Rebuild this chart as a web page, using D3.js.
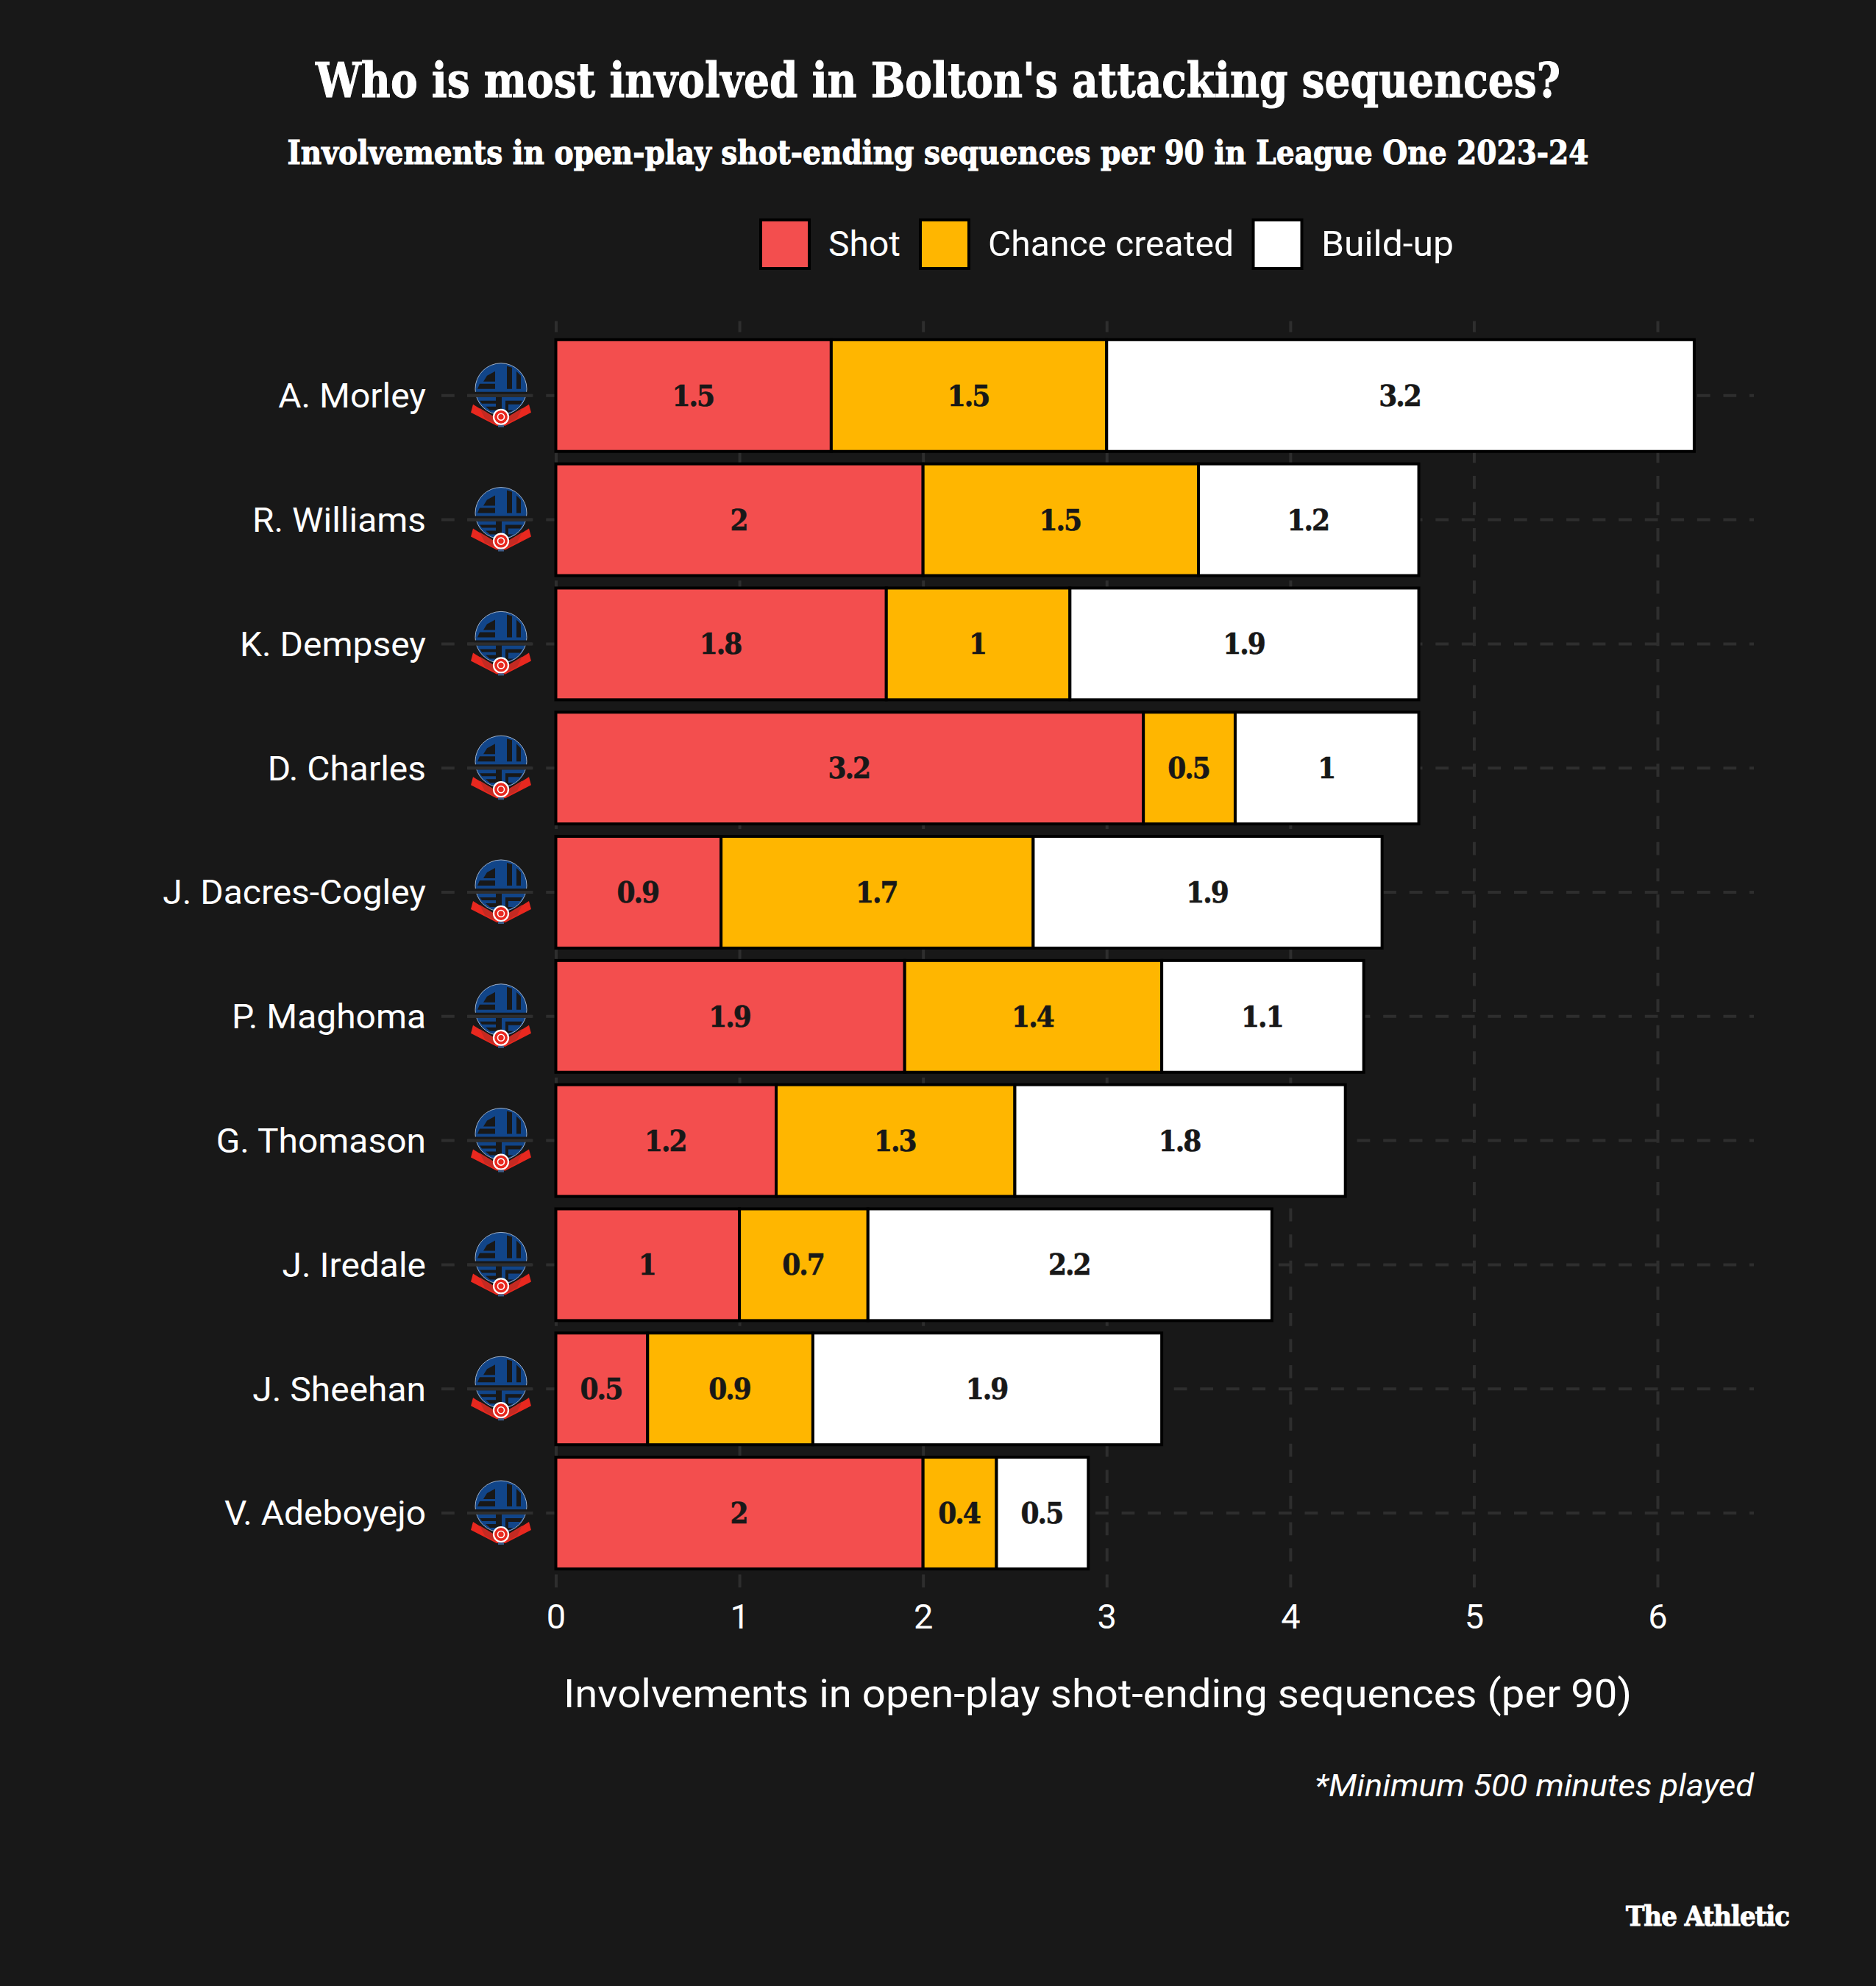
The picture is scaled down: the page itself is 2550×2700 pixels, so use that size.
<!DOCTYPE html>
<html>
<head>
    <title>Who is most involved in Bolton's attacking sequences?</title>
    <script src="https://cdnjs.cloudflare.com/ajax/libs/d3/7.8.5/d3.min.js"></script>
    <style>
        body { margin: 0; background: #181818; }
        text { fill: #fff; font-family: Roboto, sans-serif; }
        .slab { font-family: "DejaVu Serif", serif; font-weight: 700; font-stretch: condensed; }
        .heavy { stroke: #fff; stroke-width: 1; }
        .value { stroke: #181818; stroke-width: 0.6; }
        .grid line { stroke: #2e2e2e; stroke-width: 4; stroke-dasharray: 17.78 17.78; }
        .domain { display: none; }
    </style>
</head>
<body>
    <svg id="chart" width="2550" height="2700"></svg>

    <script>
        var players = ["A. Morley", "R. Williams", "K. Dempsey", "D. Charles", "J. Dacres-Cogley",
                       "P. Maghoma", "G. Thomason", "J. Iredale", "J. Sheehan", "V. Adeboyejo"];
        var shot =    [1.5, 2, 1.8, 3.2, 0.9, 1.9, 1.2, 1, 0.5, 2];
        var chance =  [1.5, 1.5, 1, 0.5, 1.7, 1.4, 1.3, 0.7, 0.9, 0.4];
        var buildUp = [3.2, 1.2, 1.9, 1, 1.9, 1.1, 1.8, 2.2, 1.9, 0.5];
        var seriesNames = ["Shot", "Chance created", "Build-up"];
        var xTicks = [0, 1, 2, 3, 4, 5, 6];

        var colour = d3.scaleOrdinal().domain(seriesNames).range(["#f34e4e", "#ffb600", "#ffffff"]);

        var rows = players.map(function(name, i) {
            return { player: name, "Shot": shot[i], "Chance created": chance[i], "Build-up": buildUp[i] };
        });

        var svg = d3.select("#chart");
        svg.append("rect").attr("width", 2550).attr("height", 2700).attr("fill", "#181818");

        var panel = { left: 600, right: 2384, top: 436.5, bottom: 2158.3 };

        var x = d3.scaleLinear().domain([0, 6]).range([755.5, 2253]);
        var y = d3.scaleBand().domain(players).range([panel.top, panel.bottom])
            .paddingInner(0.1).paddingOuter(0.15);

        // titles
        function fit(sel, width) {
            return sel.attr("textLength", width).attr("lengthAdjust", "spacingAndGlyphs");
        }
        fit(svg.append("text").attr("class", "slab heavy").attr("x", 1275).attr("y", 132)
            .attr("text-anchor", "middle").attr("font-size", 66)
            .text("Who is most involved in Bolton's attacking sequences?"), 1692);
        fit(svg.append("text").attr("class", "slab heavy").attr("x", 1275).attr("y", 223)
            .attr("text-anchor", "middle").attr("font-size", 45)
            .text("Involvements in open-play shot-ending sequences per 90 in League One 2023-24"), 1769);

        // legend
        var legendSwatch = [1034, 1251, 1703.5];
        var legendText = [1126, 1343, 1796];
        var legendWidth = [98, 334, 180];
        seriesNames.forEach(function(name, i) {
            svg.append("rect").attr("x", legendSwatch[i]).attr("y", 299).attr("width", 66).attr("height", 66)
                .attr("fill", colour(name)).attr("stroke", "#000").attr("stroke-width", 4);
            fit(svg.append("text").attr("x", legendText[i]).attr("y", 348).attr("font-size", 48).text(name), legendWidth[i]);
        });

        // grid lines, the x axis draws them upwards from the bottom of the panel
        var xAxis = svg.append("g").attr("class", "grid")
            .attr("transform", "translate(0," + panel.bottom + ")")
            .call(d3.axisBottom(x).tickValues(xTicks).tickFormat(d3.format("d"))
                .tickSize(-(panel.bottom - panel.top)).tickPadding(22));
        xAxis.selectAll("text").attr("font-size", 47).attr("font-family", "Roboto").attr("fill", "#fff");

        svg.append("g").attr("class", "grid")
            .attr("transform", "translate(" + panel.left + ",0)")
            .call(d3.axisRight(y).tickSize(panel.right - panel.left).tickFormat(""));

        var yAxis = svg.append("g")
            .attr("transform", "translate(" + panel.left + ",0)")
            .call(d3.axisLeft(y).tickSize(0).tickPadding(21));
        yAxis.selectAll("text").attr("font-size", 47).attr("font-family", "Roboto").attr("fill", "#fff")
            .attr("dy", "0.35em")
            .each(function() { fit(d3.select(this), this.getComputedTextLength() * 1.02); });

        // club crest next to every name
        function drawCrest(g) {
            var navy = "#114589", edge = "#9db0ca", bg = "#181818", red = "#e8281f";
            g.append("circle").attr("cx", 0).attr("cy", -9).attr("r", 35)
                .attr("fill", navy).attr("stroke", edge).attr("stroke-width", 1);
            // holes of the B and the W, then the gap and the holes of the E and the C
            var holes = [
                "M-19,-27 L-8,-33 L-8,-19 L-24,-19 Z",
                "M-29,-16 L-8,-16 L-8,-9 L-32,-9 Z",
                "M8,-40 L15,-38 L15,-9 L8,-9 Z",
                "M21,-33 L27,-27 L27,-9 L21,-9 Z",
                "M-37,-5 L37,-5 L37,2 L-37,2 Z",
                "M-29,7 L-7,7 L-7,11 L-26,11 Z",
                "M-21,15 L-7,15 L-7,20 L-15,20 Z",
                "M-7,2 L1,2 L1,28 L-7,28 Z",
                "M6,7 L29,7 L26,12 L10,12 L10,20 L17,20 L6,25 Z"
            ];
            g.selectAll("path.hole").data(holes).join("path").attr("class", "hole")
                .attr("d", function(d) { return d; }).attr("fill", bg);
            g.append("rect").attr("x", -46).attr("y", -2).attr("width", 88).attr("height", 4).attr("fill", "#2e2e2e");
            g.append("path").attr("d", "M-41,23 L-38,12 L-30,17 L-11,28 L11,28 L30,17 L38,12 L41,23 L6,41 L-6,41 Z").attr("fill", red);
            g.append("path").attr("d", "M-29,17 L-11,28 L-8,38 L-22,31 Z M29,17 L11,28 L8,38 L22,31 Z").attr("fill", "#c42a22");
            g.append("circle").attr("cx", 0).attr("cy", 29).attr("r", 10).attr("fill", red).attr("stroke", "#fff").attr("stroke-width", 2.2);
            g.append("circle").attr("cx", 0).attr("cy", 29).attr("r", 4.5).attr("fill", red).attr("stroke", "#fff").attr("stroke-width", 1.6);
            g.append("rect").attr("x", -4).attr("y", 40).attr("width", 8).attr("height", 3).attr("fill", "#3e5c88");
        }
        svg.selectAll("g.crest").data(players).join("g").attr("class", "crest")
            .attr("transform", function(d) { return "translate(681," + (y(d) + y.bandwidth() / 2) + ")"; })
            .each(function() { drawCrest(d3.select(this)); });

        // stacked bars
        var stacked = d3.stack().keys(seriesNames)(rows);
        var layer = svg.selectAll("g.layer").data(stacked).join("g").attr("class", "layer")
            .attr("fill", function(d) { return colour(d.key); });

        layer.selectAll("rect").data(function(d) { return d; }).join("rect")
            .attr("x", function(d) { return x(d[0]); })
            .attr("y", function(d) { return y(d.data.player); })
            .attr("width", function(d) { return x(d[1]) - x(d[0]); })
            .attr("height", y.bandwidth())
            .attr("stroke", "#000").attr("stroke-width", 4);

        layer.selectAll("text").data(function(d) { return d; }).join("text")
            .attr("class", "slab value")
            .attr("x", function(d) { return (x(d[0]) + x(d[1])) / 2 - 1; })
            .attr("y", function(d) { return y(d.data.player) + y.bandwidth() / 2 + 14; })
            .attr("text-anchor", "middle")
            .attr("font-size", 40)
            .attr("letter-spacing", -2)
            .style("fill", "#181818")
            .text(function(d) { return +(d[1] - d[0]).toFixed(1); });

        // axis title, note, logo
        fit(svg.append("text").attr("x", 1492).attr("y", 2321).attr("text-anchor", "middle").attr("font-size", 53)
            .text("Involvements in open-play shot-ending sequences (per 90)"), 1452);
        fit(svg.append("text").attr("x", 2384).attr("y", 2442).attr("text-anchor", "end").attr("font-size", 43)
            .attr("font-style", "italic").text("*Minimum 500 minutes played"), 597);
        fit(svg.append("text").attr("class", "slab heavy").attr("x", 2432).attr("y", 2618).attr("text-anchor", "end")
            .attr("font-size", 38).attr("letter-spacing", -1).text("The Athletic"), 222);
    </script>
</body>
</html>
